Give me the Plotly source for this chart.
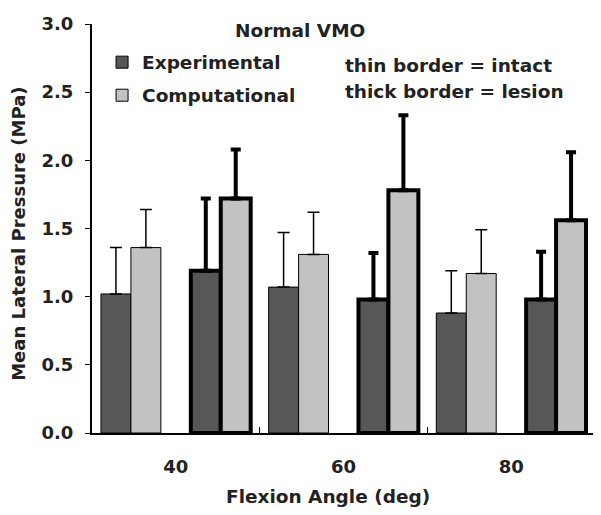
import plotly.graph_objects as go

angles = ["40", "60", "80"]
exp_intact = [1.02, 1.07, 0.88]
exp_intact_err = [0.34, 0.40, 0.31]
comp_intact = [1.36, 1.31, 1.17]
comp_intact_err = [0.28, 0.31, 0.32]
exp_lesion = [1.19, 0.98, 0.98]
exp_lesion_err = [0.53, 0.34, 0.35]
comp_lesion = [1.72, 1.78, 1.56]
comp_lesion_err = [0.36, 0.55, 0.50]

DARK = "#575757"
LIGHT = "#c2c2c2"
FONT = "DejaVu Sans"
TXT = "#222222"

fig = go.Figure()

def add(vals, errs, color, lw, name, show, group):
    fig.add_trace(go.Bar(
        x=angles, y=vals, name=name, showlegend=show, legendgroup=group,
        marker=dict(color=color, line=dict(color="black", width=lw)),
        error_y=dict(type="data", array=errs, symmetric=False, arrayminus=[0]*len(errs),
                     color="black", thickness=lw + (0.5 if lw < 2 else 0), width=6 if lw < 2 else 5),
    ))

add(exp_intact, exp_intact_err, DARK, 1, "Experimental", True, "a")
add(comp_intact, comp_intact_err, LIGHT, 1, "Computational", True, "b")
fig.add_trace(go.Bar(x=angles, y=[0, 0, 0], showlegend=False, hoverinfo="skip",
                     marker=dict(color="rgba(0,0,0,0)", line=dict(width=0))))
add(exp_lesion, exp_lesion_err, DARK, 4, "Experimental (lesion)", False, "a")
add(comp_lesion, comp_lesion_err, LIGHT, 4, "Computational (lesion)", False, "b")

fig.update_layout(
    width=593, height=507,
    margin=dict(l=84, r=6, t=5, b=82),
    paper_bgcolor="white", plot_bgcolor="white",
    barmode="group", bargap=0.107, bargroupgap=0,
    font=dict(family=FONT, size=18, color="black", weight="bold"),
    showlegend=True,
    legend=dict(x=0.02, y=0.952, xanchor="left", yanchor="top",
                bgcolor="rgba(0,0,0,0)", font=dict(size=18.5, weight="bold", color=TXT),
                tracegroupgap=6, itemwidth=30),
    xaxis=dict(
        showline=True, linecolor="black", linewidth=2,
        ticks="inside", tickson="boundaries", ticklen=6, tickcolor="black", tickwidth=1,
        tickfont=dict(size=18, weight="bold", color=TXT), showgrid=False,
        ticklabelstandoff=16,
    ),
    yaxis=dict(
        range=[0, 3.0], tickvals=[0, 0.5, 1.0, 1.5, 2.0, 2.5, 3.0],
        tickformat=".1f",
        showline=True, linecolor="black", linewidth=2,
        ticks="outside", ticklen=5, tickcolor="black", tickwidth=1,
        tickfont=dict(size=18, weight="bold", color=TXT), showgrid=False, zeroline=False,
        ticklabelstandoff=8, ticklabeloverflow="allow",
    ),
    annotations=[
        dict(text="Normal VMO", xref="paper", yref="paper", x=0.413, y=0.983, yanchor="middle",
             xanchor="center", showarrow=False, font=dict(size=18.5, weight="bold", color=TXT)),
        dict(text="thin border = intact", xref="paper", yref="paper", x=0.499, y=0.898,
             xanchor="left", yanchor="middle", showarrow=False, font=dict(size=18.5, weight="bold", color=TXT)),
        dict(text="thick border = lesion", xref="paper", yref="paper", x=0.499, y=0.836,
             xanchor="left", yanchor="middle", showarrow=False, font=dict(size=18.5, weight="bold", color=TXT)),
        dict(text="Flexion Angle (deg)", xref="paper", yref="paper", x=0.469, y=-0.155,
             xanchor="center", yanchor="middle", showarrow=False, font=dict(size=18.5, weight="bold", color=TXT)),
        dict(text="Mean Lateral Pressure (MPa)", xref="paper", yref="paper", x=-0.146, y=0.486,
             xanchor="center", yanchor="middle", textangle=-90, showarrow=False,
             font=dict(size=18, weight="bold", color=TXT)),
    ],
)

fig.write_html("out.html")
